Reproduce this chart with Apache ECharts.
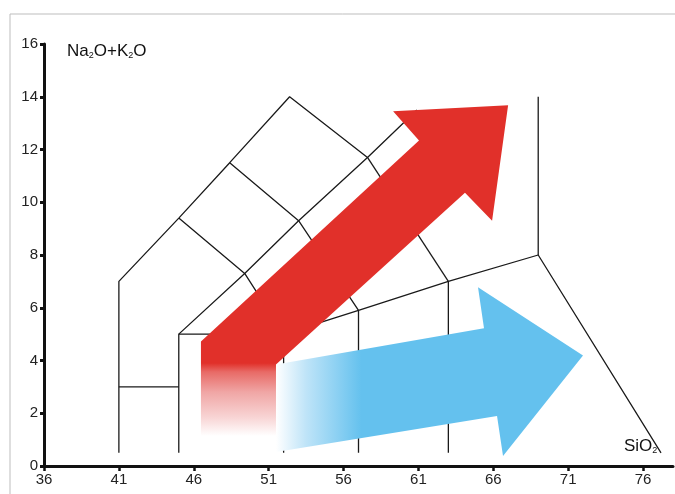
<!DOCTYPE html>
<html><head><meta charset="utf-8">
<script src="https://cdn.jsdelivr.net/npm/echarts@6/dist/echarts.min.js"></script>
<style>html,body{margin:0;padding:0;background:#fff}#c{width:675px;height:494px}</style>
</head><body><div id="c"></div>
<script>
// ---- data ----
const xTicks = [36, 41, 46, 51, 56, 61, 66, 71, 76];
const yTicks = [0, 2, 4, 6, 8, 10, 12, 14, 16];
// TAS field boundaries (SiO2, Na2O+K2O)
const outerLeft = [[41,0.5],[41,7],[45,9.4],[48.4,11.5],[52.4,14],[57.6,11.7],[60.9,13.5]];
const picroTop = [[41,3],[45,3]];
const lowerChain = [[45,0.5],[45,5],[52,5],[57,5.9],[63,7],[69,8],[77.2,0.5]];
const rhyoliteLine = [[69,8],[69,14]];
const diagChain = [[45,5],[49.4,7.3],[53,9.3],[57.6,11.7]];
const cross1 = [[45,9.4],[49.4,7.3],[52,5]];
const cross2 = [[48.4,11.5],[53,9.3],[57,5.9]];
const cross3 = [[57.6,11.7],[63,7]];
const vert52 = [[52,0.5],[52,5]];
const vert57 = [[57,0.5],[57,5.9]];
const vert63 = [[63,0.5],[63,7]];
const boundaries = [outerLeft, picroTop, lowerChain, rhyoliteLine, diagChain, cross1, cross2, cross3, vert52, vert57, vert63];
// arrows (outline vertices in data units)
const redArrow = [[46.48,4.72],[61.04,12.34],[59.31,13.45],[66.99,13.68],[65.92,9.30],[64.11,10.36],[51.49,3.85],[51.49,1.14],[46.48,1.14]];
const blueArrow = [[51.49,0.53],[51.49,3.85],[65.38,5.22],[64.98,6.78],[71.99,4.19],[66.65,0.38],[66.25,1.90]];

const chart = echarts.init(document.getElementById('c'), null, {renderer: 'canvas'});
const FONT = "'Liberation Sans', Arial, sans-serif";

const series = boundaries.map(b => ({
  type: 'line', data: b, showSymbol: false, silent: true, z: 2,
  lineStyle: {color: '#1a1a1a', width: 1.3}, animation: false
}));

series.push({
  type: 'custom', z: 5, animation: false, silent: true,
  data: [[0, 0]],
  renderItem: function (params, api) {
    const pts = redArrow.map(p => api.coord(p));
    const yTop = api.coord([0, 3.9])[1];
    const yBot = api.coord([0, 1.14])[1];
    return {
      type: 'polygon', shape: {points: pts},
      style: {fill: new echarts.graphic.LinearGradient(0, yTop, 0, yBot, [
        {offset: 0, color: '#e1302a'},
        {offset: 0.12, color: '#e86a66'},
        {offset: 0.4, color: '#f0a6a5'},
        {offset: 0.75, color: '#f8d5d5'},
        {offset: 1, color: '#ffffff'}
      ], true)}
    };
  }
});
series.push({
  type: 'custom', z: 4, animation: false, silent: true,
  data: [[0, 0]],
  renderItem: function (params, api) {
    const pts = blueArrow.map(p => api.coord(p));
    const xL = api.coord([51.49, 0])[0];
    const xR = api.coord([57.2, 0])[0];
    return {
      type: 'polygon', shape: {points: pts},
      style: {fill: new echarts.graphic.LinearGradient(xL, 0, xR, 0, [
        {offset: 0, color: '#ffffff'},
        {offset: 0.35, color: '#bfe4f8'},
        {offset: 1, color: '#64c1ee'}
      ], true)}
    };
  }
});

chart.setOption({
  animation: false,
  backgroundColor: '#fff',
  grid: {left: 44, top: 44, right: 2, bottom: 28, containLabel: false},
  xAxis: {
    type: 'value', min: 36, max: 78,
    axisLine: {show: true, lineStyle: {color: '#111', width: 3}},
    axisTick: {show: true, length: 5, lineStyle: {color: '#111', width: 2.5}, customValues: xTicks},
    axisLabel: {color: '#222', fontSize: 15, fontFamily: FONT, margin: 6, customValues: xTicks},
    splitLine: {show: false}
  },
  yAxis: {
    type: 'value', min: 0, max: 16, interval: 2,
    axisLine: {show: true, lineStyle: {color: '#111', width: 3}},
    axisTick: {show: true, length: 4, lineStyle: {color: '#111', width: 3}, customValues: yTicks},
    axisLabel: {color: '#222', fontSize: 15, fontFamily: FONT, margin: 6, customValues: yTicks},
    splitLine: {show: false}
  },
  graphic: [
    {type: 'line', shape: {x1: 10, y1: 14, x2: 675, y2: 14}, style: {stroke: '#bdbdbd', lineWidth: 1}, silent: true},
    {type: 'line', shape: {x1: 10, y1: 14, x2: 10, y2: 494}, style: {stroke: '#bdbdbd', lineWidth: 1}, silent: true},
    {type: 'text', left: 67, top: 43, silent: true, z: 10,
      style: {text: '{n|Na}{s|2}{n|O+K}{s|2}{n|O}', rich: {
        n: {fontSize: 17, fontFamily: FONT, fill: '#111', verticalAlign: 'bottom'},
        s: {fontSize: 9, fontFamily: FONT, fill: '#111', padding: [9, 0, 0, 0], verticalAlign: 'bottom'}
      }}},
    {type: 'text', left: 624, top: 438, silent: true, z: 10,
      style: {text: '{n|SiO}{s|2}', rich: {
        n: {fontSize: 17, fontFamily: FONT, fill: '#111', verticalAlign: 'bottom'},
        s: {fontSize: 9, fontFamily: FONT, fill: '#111', padding: [9, 0, 0, 0], verticalAlign: 'bottom'}
      }}}
  ],
  series: series
});
</script>
</body></html>
